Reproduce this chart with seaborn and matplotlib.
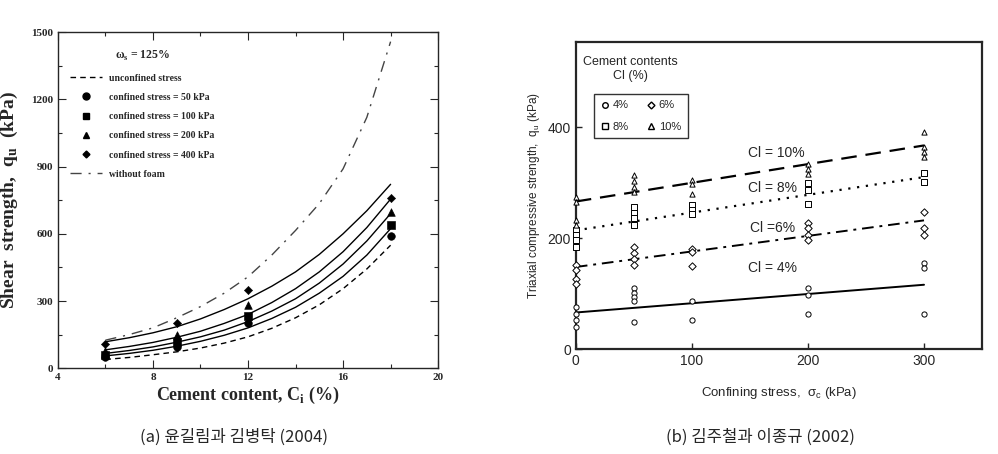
import numpy as np
import matplotlib
matplotlib.use("Agg")
import matplotlib.pyplot as plt
import seaborn as sns
from matplotlib.lines import Line2D
from matplotlib.ticker import MultipleLocator

# ---- data: panel (a) ----
cement = [6, 7, 8, 9, 10, 11, 12, 13, 14, 15, 16, 17, 18]
fit_400 = [118, 136, 158, 185, 220, 262, 310, 366, 430, 508, 600, 703, 821]
fit_200 = [82, 97, 115, 138, 165, 200, 240, 293, 355, 430, 520, 628, 755]
fit_100 = [66, 79, 95, 116, 140, 170, 208, 255, 310, 380, 465, 568, 690]
fit_50 = [55, 66, 80, 98, 120, 147, 180, 222, 272, 335, 410, 505, 623]
fit_unconfined = [39, 48, 60, 73, 90, 112, 140, 178, 225, 283, 355, 443, 549]
fit_no_foam = [125, 150, 180, 225, 275, 335, 408, 505, 615, 735, 890, 1120, 1458]

meas_x = [6, 9, 12, 18]
meas_50 = [50, 94, 200, 590]
meas_100 = [60, 115, 235, 638]
meas_200 = [75, 150, 280, 696]
meas_400 = [106, 200, 350, 762]

# ---- data: panel (b) ----
line_x = [0, 300]
line_4 = [66, 116]
line_6 = [148, 232]
line_8 = [214, 310]
line_10 = [266, 367]

pts4_x = [0, 0, 0, 0, 50, 50, 50, 50, 50, 100, 100, 200, 200, 200, 300, 300, 300]
pts4_y = [76, 64, 52, 40, 110, 102, 94, 86, 49, 86, 53, 110, 97, 64, 155, 146, 64]
pts6_x = [0, 0, 0, 0, 50, 50, 50, 50, 100, 100, 100, 200, 200, 200, 200, 300, 300, 300]
pts6_y = [151, 142, 127, 118, 184, 174, 163, 151, 181, 175, 149, 227, 218, 205, 196, 247, 218, 206]
pts8_x = [0, 0, 0, 0, 50, 50, 50, 50, 100, 100, 100, 200, 200, 200, 300, 300]
pts8_y = [214, 205, 196, 184, 256, 246, 236, 224, 259, 250, 244, 299, 286, 261, 317, 301]
pts10_x = [0, 0, 0, 0, 50, 50, 50, 50, 100, 100, 100, 200, 200, 200, 300, 300, 300, 300]
pts10_y = [274, 265, 232, 223, 313, 303, 293, 283, 304, 298, 280, 334, 325, 316, 392, 365, 356, 347]

sns.set_style("ticks")
plt.rcParams['font.family'] = ['Liberation Serif', 'DejaVu Sans']

fig = plt.figure(figsize=(9.98, 4.54), dpi=100)
ax1 = fig.add_axes([0.058, 0.189, 0.381, 0.740])
ax2 = fig.add_axes([0.577, 0.231, 0.407, 0.676])

# ---------- panel (a) ----------
serif = {'family': 'Liberation Serif', 'weight': 'bold'}
sns.lineplot(x=cement, y=fit_unconfined, ax=ax1, color='k', lw=1.0, linestyle=(0, (4, 3)))
for f in [fit_400, fit_200, fit_100, fit_50]:
    sns.lineplot(x=cement, y=f, ax=ax1, color='k', lw=1.0)
sns.lineplot(x=cement, y=fit_no_foam, ax=ax1, color='#444444', lw=1.0,
             linestyle=(0, (8, 5, 1.5, 5)))
sns.scatterplot(x=meas_x, y=meas_50, ax=ax1, marker='o', color='k', s=30, edgecolor='k')
sns.scatterplot(x=meas_x, y=meas_100, ax=ax1, marker='s', color='k', s=30, edgecolor='k')
sns.scatterplot(x=meas_x, y=meas_200, ax=ax1, marker='^', color='k', s=30, edgecolor='k')
sns.scatterplot(x=meas_x, y=meas_400, ax=ax1, marker='D', color='k', s=18, edgecolor='k')

ax1.set_xlim(4, 20)
ax1.set_ylim(0, 1500)
ax1.xaxis.set_major_locator(MultipleLocator(4))
ax1.xaxis.set_minor_locator(MultipleLocator(2))
ax1.yaxis.set_major_locator(MultipleLocator(300))
ax1.yaxis.set_minor_locator(MultipleLocator(150))
ax1.tick_params(which='both', direction='in', top=True, right=True, labelsize=8, width=0.8)
ax1.tick_params(which='major', length=6)
ax1.tick_params(which='minor', length=3)
for lab in ax1.get_xticklabels() + ax1.get_yticklabels():
    lab.set_fontweight('bold')
for sp in ax1.spines.values():
    sp.set_linewidth(1.0)
ax1.set_xlabel('Cement content, C$_\\mathregular{i}$ (%)', fontdict=serif, fontsize=13, labelpad=2)
ax1.set_ylabel('Shear  strength,  q$_\\mathregular{u}$  (kPa)', fontdict=serif, fontsize=14, labelpad=8)

handles_a = [
    Line2D([], [], color='k', lw=1.0, linestyle=(0, (4, 3))),
    Line2D([], [], color='k', marker='o', linestyle='none', markersize=5),
    Line2D([], [], color='k', marker='s', linestyle='none', markersize=5),
    Line2D([], [], color='k', marker='^', linestyle='none', markersize=4),
    Line2D([], [], color='k', marker='D', linestyle='none', markersize=3.5),
    Line2D([], [], color='#444444', lw=1.0, linestyle=(0, (8, 5, 1.5, 5))),
]
labels_a = ['unconfined stress', 'confined stress = 50 kPa', 'confined stress = 100 kPa',
            'confined stress = 200 kPa', 'confined stress = 400 kPa', 'without foam']
leg = ax1.legend(handles_a, labels_a, loc='upper left', bbox_to_anchor=(0.01, 0.975),
                 frameon=False, title='ω$_\\mathregular{s}$ = 125%', handlelength=3.2,
                 labelspacing=1.05, prop={'family': 'Liberation Serif', 'weight': 'bold', 'size': 7})
leg.get_title().set_fontsize(8.5)
leg.get_title().set_fontweight('bold')

# ---------- panel (b) ----------
sans = 'Liberation Sans'
sns.lineplot(x=line_x, y=line_10, ax=ax2, color='k', lw=1.6, linestyle=(0, (7, 4)))
sns.lineplot(x=line_x, y=line_8, ax=ax2, color='k', lw=1.6, linestyle=(0, (1, 3)))
sns.lineplot(x=line_x, y=line_6, ax=ax2, color='k', lw=1.4, linestyle=(0, (6, 3, 1.5, 3)))
sns.lineplot(x=line_x, y=line_4, ax=ax2, color='k', lw=1.4)

mk = dict(s=14, facecolor='white', edgecolor='k', linewidth=0.7, clip_on=False, zorder=5)
sns.scatterplot(x=pts4_x, y=pts4_y, ax=ax2, marker='o', **mk)
sns.scatterplot(x=pts6_x, y=pts6_y, ax=ax2, marker='D', **mk)
sns.scatterplot(x=pts8_x, y=pts8_y, ax=ax2, marker='s', **mk)
sns.scatterplot(x=pts10_x, y=pts10_y, ax=ax2, marker='^', **mk)

ax2.set_xlim(0, 350)
ax2.set_ylim(0, 553)
ax2.set_xticks([0, 100, 200, 300])
ax2.set_yticks([0, 200, 400])
ax2.tick_params(direction='in', length=4, labelsize=10, width=1.0)
for lab in ax2.get_xticklabels() + ax2.get_yticklabels():
    lab.set_family(sans)
for sp in ax2.spines.values():
    sp.set_linewidth(1.6)
ax2.set_xlabel('Confining stress,  σ$_\\mathregular{c}$ (kPa)', family=sans, fontsize=9.5, labelpad=12)
ax2.set_ylabel('Triaxial compressive strength,  q$_\\mathregular{u}$ (kPa)', family=sans,
               fontsize=8.5, labelpad=4)

ax2.text(148, 353, 'Cl = 10%', family=sans, fontsize=10, va='center')
ax2.text(148, 290, 'Cl = 8%', family=sans, fontsize=10, va='center')
ax2.text(150, 218, 'Cl =6%', family=sans, fontsize=10, va='center')
ax2.text(148, 146, 'Cl = 4%', family=sans, fontsize=10, va='center')

ax2.text(0.135, 0.955, 'Cement contents\nCl (%)', transform=ax2.transAxes, family=sans,
         fontsize=9, ha='center', va='top', linespacing=1.2)
mk_leg = dict(linestyle='none', markerfacecolor='white', markeredgecolor='k', markersize=4)
handles_b = [Line2D([], [], marker='o', **mk_leg), Line2D([], [], marker='s', **mk_leg),
             Line2D([], [], marker='D', markersize=3.5, linestyle='none',
                    markerfacecolor='white', markeredgecolor='k'),
             Line2D([], [], marker='^', **mk_leg)]
leg2 = ax2.legend(handles_b, ['4%', '8%', '6%', '10%'], ncol=2, loc='upper left',
                  bbox_to_anchor=(0.03, 0.85), handlelength=0.8, handletextpad=0.3,
                  columnspacing=1.6, labelspacing=1.0, fancybox=False, borderpad=0.6,
                  prop={'family': sans, 'size': 8})
leg2.get_frame().set_edgecolor('k')
leg2.get_frame().set_linewidth(1.0)

# ---------- captions ----------
cjk = ['Noto Sans CJK KR', 'DejaVu Sans']
fig.text(0.234, 0.037, '(a) 윤길림과 김병탁 (2004)', family=cjk, fontsize=12, ha='center', va='center')
fig.text(0.762, 0.037, '(b) 김주철과 이종규 (2002)', family=cjk, fontsize=12, ha='center', va='center')

fig.savefig('out.png', dpi=100)
